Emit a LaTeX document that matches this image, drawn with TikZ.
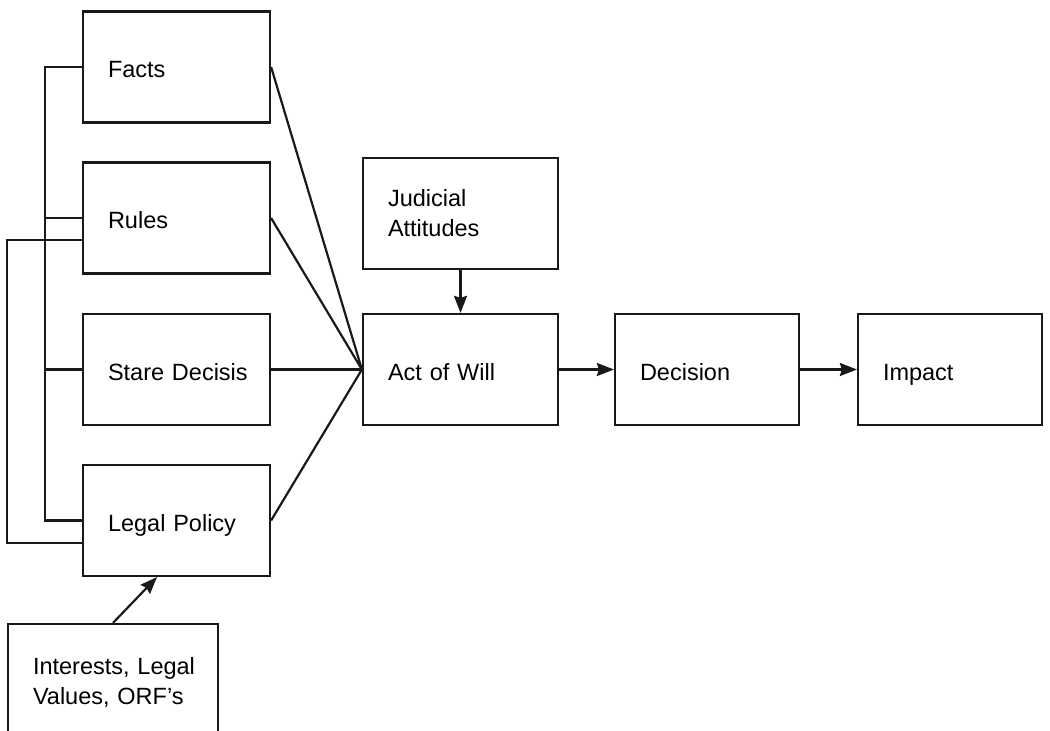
\documentclass[tikz,border=0pt]{standalone}
\usepackage{fontspec}
\setmainfont{Liberation Sans}
\usetikzlibrary{arrows.meta}
\begin{document}
\begin{tikzpicture}[x=1pt,y=-1pt,
  box/.style={draw=black!90, line width=2.2pt, inner xsep=25pt, inner ysep=0pt,
    minimum height=111pt, align=left, text width=#1,
    font=\fontsize{23.5}{30}\selectfont},
  one/.style={text height=21pt, text depth=0pt},
  conn/.style={draw=black!90, line width=2.2pt},
  arr/.style={conn, -{Stealth[length=17pt,width=13pt,inset=2pt]}}]
\useasboundingbox (0,0) rectangle (1050,731);
% left column
\node[box=137pt, one] (facts) at (176.5,67) {\mbox{Facts}};
\node[box=137pt, one] (rules) at (176.5,218) {\mbox{Rules}};
\node[box=137pt, one] (stare) at (176.5,369.5) {\mbox{Stare Decisis}};
\node[box=137pt, one] (legal) at (176.5,520.5) {\mbox{Legal Policy}};
\node[box=160pt, minimum height=116pt] (int) at (113,682) {\mbox{Interests, Legal}\\\mbox{Values, ORF’s}};
% middle and right
\node[box=145pt] (jud) at (460.5,213.5) {\mbox{Judicial}\\\mbox{Attitudes}};
\node[box=145pt, one] (act) at (460.5,369.5) {\mbox{Act of Will}};
\node[box=134pt, one] (dec) at (707,369.5) {\mbox{Decision}};
\node[box=134pt, one] (imp) at (950,369.5) {\mbox{Impact}};
% left bus
\coordinate (bus) at (45,0);
\coordinate (obus) at (7,0);
\draw[conn] (facts.west) -| (bus |- legal.west) -- (legal.west);
\draw[conn] (rules.west) -- (bus |- rules.west);
\draw[conn] (stare.west) -- (bus |- stare.west);
\coordinate (rw2) at ([yshift=-22pt]rules.west);
\coordinate (lw2) at ([yshift=-22.5pt]legal.west);
\draw[conn] (rw2) -| (obus |- lw2) -- (lw2);
% fan-in to act of will
\draw[conn] (facts.east) -- (act.west);
\draw[conn] (rules.east) -- (act.west);
\draw[conn] (stare.east) -- (act.west);
\draw[conn] (legal.east) -- (act.west);
% arrows
\draw[arr] (jud.south) -- (act.north);
\draw[arr] (act.east) -- (dec.west);
\draw[arr] (dec.east) -- (imp.west);
\coordinate (lpin) at ([xshift=-19.5pt]legal.south);
\draw[arr] (int.north) -- (lpin);
\end{tikzpicture}
\end{document}
